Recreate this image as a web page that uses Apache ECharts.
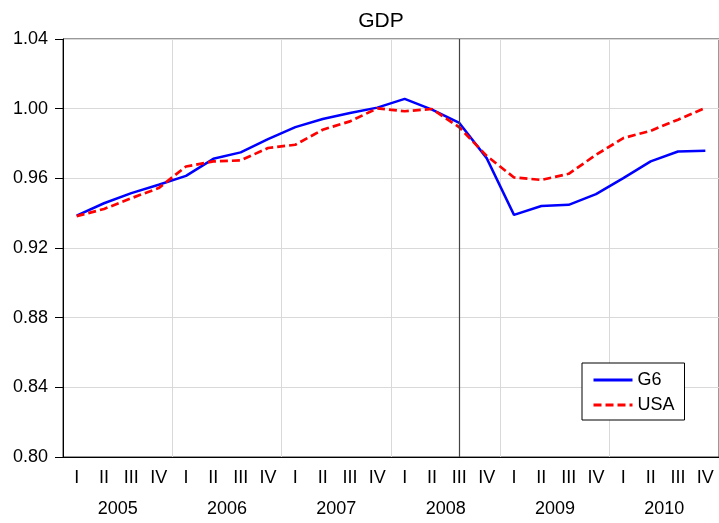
<!DOCTYPE html>
<html>
<head>
<meta charset="utf-8">
<script src="https://cdn.jsdelivr.net/npm/echarts@6/dist/echarts.min.js"></script>
<style>
html, body { margin: 0; padding: 0; background: #fff; }
#chart { width: 719px; height: 523px; }
</style>
</head>
<body>
<div id="chart"></div>
<script>
// data
var years = ['2005', '2006', '2007', '2008', '2009', '2010'];
var quarterNames = ['I', 'II', 'III', 'IV'];
var quarters = [];
years.forEach(function (y) {
    quarterNames.forEach(function (q) { quarters.push(y + ' ' + q); });
});

var g6 = [0.9386, 0.9457, 0.9515, 0.9563, 0.9614, 0.9712, 0.9749, 0.9825,
          0.9894, 0.9941, 0.9975, 1.0006, 1.0056, 0.9994, 0.9918, 0.9716,
          0.9390, 0.9441, 0.9448, 0.9509, 0.9601, 0.9697, 0.9754, 0.9758];
var usa = [0.9383, 0.9424, 0.9486, 0.9544, 0.9668, 0.9697, 0.9703, 0.9774,
           0.9793, 0.9879, 0.9927, 1.0002, 0.9985, 0.9998, 0.9893, 0.9729,
           0.9605, 0.9591, 0.9626, 0.9735, 0.9831, 0.9873, 0.9937, 1.0004];
var shockQuarter = '2008 III';
var yTicks = { min: 0.80, max: 1.04, step: 0.04 };

var font = 'Arial, "Liberation Sans", sans-serif';
var gridColor = '#d9d9d9';

var chart = echarts.init(document.getElementById('chart'));
chart.setOption({
    animation: false,
    title: {
        text: 'GDP',
        left: 376,
        top: 6,
        textAlign: 'center',
        textStyle: { fontFamily: font, fontSize: 21, fontWeight: 'normal', color: '#000' }
    },
    legend: {
        orient: 'vertical',
        left: 582,
        top: 363,
        padding: [8, 10, 6, 10],
        itemGap: 7,
        itemWidth: 39,
        itemHeight: 14,
        borderColor: '#000',
        borderWidth: 1,
        backgroundColor: '#fff',
        itemStyle: { opacity: 0 },
        lineStyle: { width: 3 },
        textStyle: { fontFamily: font, fontSize: 18, color: '#000' },
        data: ['G6', 'USA']
    },
    grid: {
        left: 63,
        top: 39,
        width: 660,
        height: 418,
        show: true,
        borderColor: '#333',
        borderWidth: 1
    },
    xAxis: [{
        type: 'category',
        data: quarters,
        boundaryGap: true,
        axisLine: { lineStyle: { color: '#000', width: 1 } },
        axisTick: { interval: 0, length: 5, lineStyle: { color: '#000' } },
        axisLabel: {
            interval: 0,
            margin: 12,
            fontFamily: font,
            fontSize: 18,
            color: '#000',
            formatter: function (v) { return v.split(' ')[1]; }
        },
        splitLine: { show: false }
    }, {
        type: 'category',
        data: years,
        position: 'bottom',
        boundaryGap: true,
        axisLine: { show: false },
        axisTick: { interval: 0, length: 9, lineStyle: { color: '#000' } },
        axisLabel: { interval: 0, margin: 43, fontFamily: font, fontSize: 18, color: '#000' },
        splitLine: { show: true, interval: 0, lineStyle: { color: gridColor, width: 1 } }
    }],
    yAxis: {
        type: 'value',
        min: yTicks.min,
        max: yTicks.max,
        interval: yTicks.step,
        axisLine: { show: true, lineStyle: { color: '#000', width: 1 } },
        axisTick: { show: true, length: 8, lineStyle: { color: '#000' } },
        axisLabel: {
            margin: 15,
            fontFamily: font,
            fontSize: 18,
            color: '#000',
            formatter: function (v) { return v.toFixed(2); }
        },
        splitLine: { lineStyle: { color: gridColor, width: 1 } }
    },
    series: [{
        name: 'G6',
        type: 'line',
        data: g6,
        symbol: 'none',
        lineStyle: { color: '#0000ff', width: 2.5 },
        itemStyle: { color: '#0000ff' },
        markLine: {
            silent: true,
            symbol: 'none',
            label: { show: false },
            lineStyle: { color: '#444', width: 1.2, type: 'solid' },
            data: [{ xAxis: shockQuarter }]
        }
    }, {
        name: 'USA',
        type: 'line',
        data: usa,
        symbol: 'none',
        lineStyle: { color: '#ff0000', width: 2.7, type: [8, 4] },
        itemStyle: { color: '#ff0000' }
    }]
});
</script>
</body>
</html>
